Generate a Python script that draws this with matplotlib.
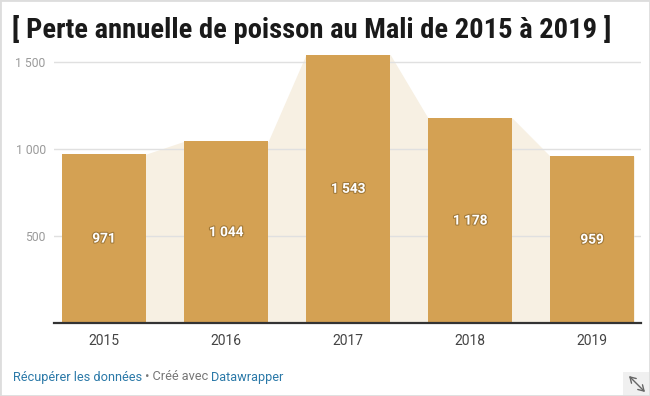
import matplotlib
matplotlib.use('Agg')
import matplotlib.pyplot as plt
from matplotlib import font_manager
import matplotlib.patheffects as pe
from matplotlib.patches import Rectangle

years = ['2015', '2016', '2017', '2018', '2019']
values = [971, 1044, 1543, 1178, 959]
value_labels = ['971', '1 044', '1 543', '1 178', '959']
y_ticks = [500, 1000, 1500]
y_tick_labels = ['500', '1 000', '1 500']
title = '[ Perte annuelle de poisson au Mali de 2015 à 2019 ]'

names = {f.name for f in font_manager.fontManager.ttflist}
title_font = 'Roboto'
for cand in ['Roboto Condensed', 'Liberation Sans Narrow', 'DejaVu Sans Condensed']:
    if cand in names:
        title_font = cand
        break

plt.rcParams['font.family'] = ['Roboto', 'DejaVu Sans']

W, H = 650, 396
fig = plt.figure(figsize=(6.5, 3.96), dpi=100)

def fx(px):
    return px / W

def fy(py):
    return 1 - py / H

base_px, top_px = 323, 50
px_per_unit = (323 - 62) / 1500
ax = fig.add_axes([fx(54), fy(base_px), fx(641) - fx(54), fy(top_px) - fy(base_px)])
ax.patch.set_visible(False)
ax.set_ylim(0, (base_px - top_px) / px_per_unit)
ax.set_xlim(-0.41, 4.40)

x = list(range(len(years)))
bw = 0.69

# background area connecting bar tops
xs, ys = [], []
for xi, v in zip(x, values):
    xs += [xi - bw / 2, xi + bw / 2]
    ys += [v, v]
ax.fill_between(xs, ys, 0, color='#f7f0e3', lw=0, zorder=1)

for t in y_ticks:
    ax.axhline(t, color='#e0e0e0', lw=1, zorder=2)

ax.bar(x, values, width=bw, color='#d4a153', zorder=3)
ax.axhline(0, color='#333333', lw=1.6, zorder=4, clip_on=False)

for xi, v, lab in zip(x, values, value_labels):
    ax.text(xi, v / 2, lab, ha='center', va='center', color='white',
            fontsize=9.8, fontweight='bold', zorder=5,
            path_effects=[pe.withStroke(linewidth=1.6, foreground='#7a5a25', alpha=0.55)])

ax.set_xticks(x)
ax.set_xticklabels(years, color='#444444', fontsize=10)
ax.set_yticks(y_ticks)
ax.set_yticklabels(y_tick_labels, color='#9a9a9a', fontsize=8.7)
ax.tick_params(axis='both', length=0)
ax.tick_params(axis='x', pad=8)
ax.tick_params(axis='y', pad=6)
for s in ax.spines.values():
    s.set_visible(False)

fig.text(fx(12), fy(29), title, fontsize=20.5, fontweight='bold',
         family=[title_font, 'DejaVu Sans'], va='center', ha='left', color='#1a1a1a')

# footer
fig.canvas.draw()
renderer = fig.canvas.get_renderer()
parts = [('Récupérer les données', '#2b79a8'), (' • Créé avec ', '#777777'), ('Datawrapper', '#2b79a8')]
xpos = fx(13)
for txt, col in parts:
    t = fig.text(xpos, fy(377), txt, fontsize=9.2, color=col, va='center', ha='left')
    bb = t.get_window_extent(renderer=renderer)
    xpos = bb.x1 / W

# resize icon box
fig.add_artist(Rectangle((fx(623), 0), fx(27), 24 / H, transform=fig.transFigure,
                         color='#f0f0f0', lw=0, zorder=-1))
ax.annotate('', xy=(fx(645), fy(392)), xytext=(fx(629), fy(376)),
            xycoords='figure fraction', textcoords='figure fraction',
            annotation_clip=False,
            arrowprops=dict(arrowstyle='<->,head_length=0.5,head_width=0.3',
                            color='#666666', lw=1.0, mutation_scale=8,
                            shrinkA=0, shrinkB=0))

fig.add_artist(Rectangle((0, 0), 1, 1, transform=fig.transFigure, fill=False,
                         ec='#dddddd', lw=2, zorder=10))

fig.savefig('out.png', dpi=100)
